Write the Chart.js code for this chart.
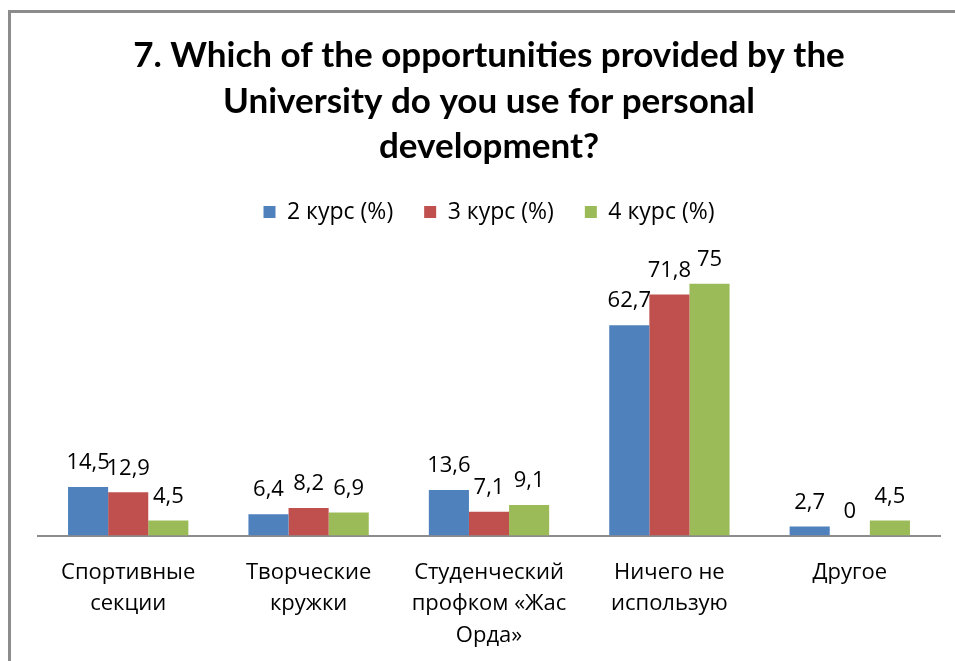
<!DOCTYPE html>
<html>
<head>
<meta charset="utf-8">
<script src="https://cdn.jsdelivr.net/npm/chart.js@4.4.1/dist/chart.umd.min.js"></script>
<style>
  html, body { margin: 0; padding: 0; background: #fff; overflow: hidden; }
  #frame {
    position: absolute; left: 8px; top: 10px; width: 1000px; height: 700px;
    border-left: 3px solid #8c8c8c; border-top: 3px solid #8c8c8c;
  }
  #wrap { position: absolute; left: 0; top: 0; width: 955px; height: 672px; }
</style>
</head>
<body>
<div id="frame"></div>
<div id="wrap"><canvas id="chart" width="955" height="672"></canvas></div>
<script>
const categories = [
    ['Спортивные', 'секции'],
    ['Творческие', 'кружки'],
    ['Студенческий', 'профком «Жас', 'Орда»'],
    ['Ничего не', 'использую'],
    ['Другое']
];
const course2 = [14.5, 6.4, 13.6, 62.7, 2.7];
const course3 = [12.9, 8.2, 7.1, 71.8, 0];
const course4 = [4.5, 6.9, 9.1, 75, 4.5];
const seriesNames = ['2 курс (%)', '3 курс (%)', '4 курс (%)'];
const titleLines = ['7. Which of the opportunities provided by the', 'University do you use for personal', 'development?'];

const colors = ['#4f81bd', '#c0504d', '#9bbb59'];

function formatValue(v) {
    return String(v).replace('.', ',');
}

// draws the value above each bar
const valueLabels = {
    id: 'valueLabels',
    afterDatasetsDraw(chart) {
        const ctx = chart.ctx;
        ctx.save();
        ctx.font = '22px "Open Sans"';
        ctx.fillStyle = '#000';
        ctx.textAlign = 'center';
        ctx.textBaseline = 'middle';
        chart.data.datasets.forEach((ds, i) => {
            const meta = chart.getDatasetMeta(i);
            meta.data.forEach((bar, j) => {
                ctx.fillText(formatValue(ds.data[j]), bar.x, bar.y - 24);
            });
        });
        ctx.restore();
    }
};

new Chart(document.getElementById('chart'), {
    type: 'bar',
    data: {
        labels: categories,
        datasets: [
            { label: seriesNames[0], data: course2, backgroundColor: colors[0] },
            { label: seriesNames[1], data: course3, backgroundColor: colors[1] },
            { label: seriesNames[2], data: course4, backgroundColor: colors[2] }
        ]
    },
    options: {
        responsive: false,
        animation: false,
        layout: { padding: { left: 38, right: 15, top: 0, bottom: 0 } },
        datasets: {
            bar: { categoryPercentage: 0.667, barPercentage: 1.0 }
        },
        plugins: {
            title: {
                display: true,
                text: titleLines,
                color: '#000',
                font: { family: 'Lato', weight: 'bold', size: 35, lineHeight: 1.3 },
                padding: { top: 33, bottom: 0 }
            },
            legend: {
                display: true,
                position: 'top',
                labels: {
                    boxWidth: 12,
                    boxHeight: 12,
                    padding: 31,
                    color: '#000',
                    font: { family: 'Open Sans', size: 23 }
                }
            },
            tooltip: { enabled: false }
        },
        scales: {
            x: {
                grid: { display: false, drawTicks: false },
                border: { display: true, color: '#8c8c8c', width: 2 },
                ticks: {
                    color: '#000',
                    maxRotation: 0,
                    autoSkip: false,
                    padding: 21,
                    font: { family: 'Open Sans', size: 22, lineHeight: 1.43 }
                }
            },
            y: {
                display: false,
                min: 0,
                max: 90
            }
        }
    },
    plugins: [valueLabels]
});
</script>
</body>
</html>
